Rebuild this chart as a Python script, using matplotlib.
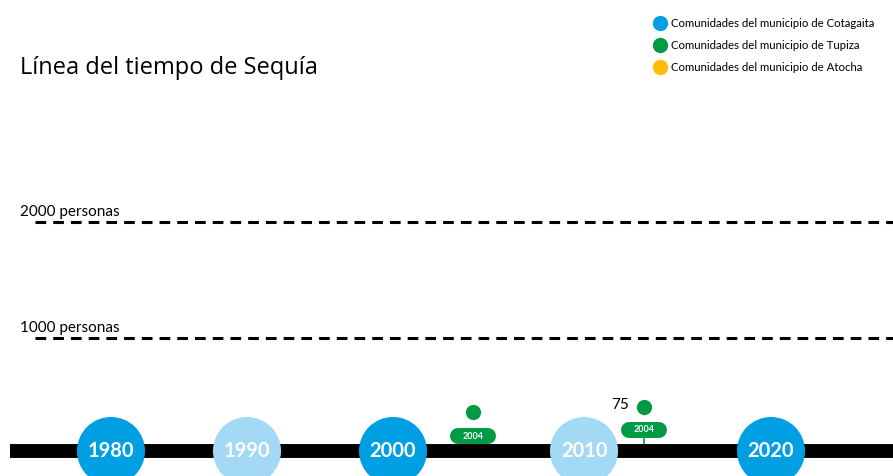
import numpy as np
import matplotlib
matplotlib.use("Agg")
import matplotlib.pyplot as plt
from matplotlib.lines import Line2D
from matplotlib.transforms import blended_transform_factory

plt.rcParams['font.family'] = ['Lato', 'DejaVu Sans']

# ---- data ----
title = "Línea del tiempo de Sequía"
decades = [1980, 1990, 2000, 2010, 2020]
decade_shade = ["dark", "light", "dark", "light", "dark"]
ref_levels = [1000, 2000]          # personas
ref_labels = ["1000 personas", "2000 personas"]
event_years = ["2004", "2004"]
event_people = ["", "75"]
legend_labels = ["Comunidades del municipio de Cotagaita",
                 "Comunidades del municipio de Tupiza",
                 "Comunidades del municipio de Atocha"]

# ---- layout (timeline position of each mark, in px along the bar) ----
decade_pos = [111, 247, 393, 584, 771]
event_pos = [473, 644]
event_pin_y = [0.135, 0.146]     # axes fraction
event_pill_y = [0.084, 0.097]

dark_blue = "#009FE3"
light_blue = "#A4D9F6"
green = "#009A44"
yellow = "#FFBC00"

fig = plt.figure(figsize=(8.93, 4.76), dpi=100)
ax = fig.add_axes([0, 0, 1, 1])
ax.set_xlim(0, 893)
ax.set_ylim(-190, 3914)
ax.axis('off')
tl = blended_transform_factory(ax.transData, ax.transAxes)
bar_y = 0.0525

# reference lines
for lvl, lab in zip(ref_levels, ref_labels):
    ax.plot([35, 893], [lvl, lvl], color='black', lw=2.2, linestyle=(0, (3.5, 2.3)))
    ax.text(20, lvl + 48, lab, fontsize=11, ha='left', va='baseline')

# timeline bar
ax.plot([10, 893], [bar_y, bar_y], color='black', lw=10, transform=tl,
        solid_capstyle='butt', zorder=2)

# decade circles
cols = [dark_blue if s == "dark" else light_blue for s in decade_shade]
ax.scatter(decade_pos, [bar_y] * len(decades), s=2400, c=cols, transform=tl,
           zorder=3, linewidths=0)
for x, d in zip(decade_pos, decades):
    ax.text(x, bar_y, str(d), transform=tl, ha='center', va='center',
            color='white', fontsize=14.5, fontweight='bold', zorder=4)

# events
for x, yr, n, py, ly in zip(event_pos, event_years, event_people, event_pin_y, event_pill_y):
    ax.plot([x - 15, x + 15], [ly, ly], color=green, lw=11.5, transform=tl,
            solid_capstyle='round', zorder=4)
    ax.text(x, ly, yr, transform=tl, ha='center', va='center', color='white',
            fontsize=6.5, fontweight='bold', zorder=5)
    ax.scatter([x], [py], s=120, color=green, transform=tl, zorder=4, linewidths=0)
    if n:
        ax.scatter([x], [py - 0.012], s=25, marker='v', color=green, transform=tl,
                   zorder=4, linewidths=0)
        ax.plot([x, x], [ly - 0.02, bar_y + 0.01], color=green, lw=1.2, transform=tl, zorder=1)
        ax.text(x - 15, py + 0.003, n, transform=tl, ha='right', va='center', fontsize=11)

ax.text(20 / 893, 0.845, title, transform=fig.transFigure, fontsize=17,
        ha='left', va='baseline', family=['Open Sans', 'DejaVu Sans'])

handles = [Line2D([], [], marker='o', ls='none', ms=11, mfc=c, mec='none')
           for c in [dark_blue, green, yellow]]
fig.legend(handles, legend_labels, loc='upper left', bbox_to_anchor=(0.728, 0.972),
           frameon=False, fontsize=8.2, handlelength=1.0, handletextpad=0.45,
           labelspacing=0.95, borderaxespad=0)

fig.savefig("out.png", dpi=100)
